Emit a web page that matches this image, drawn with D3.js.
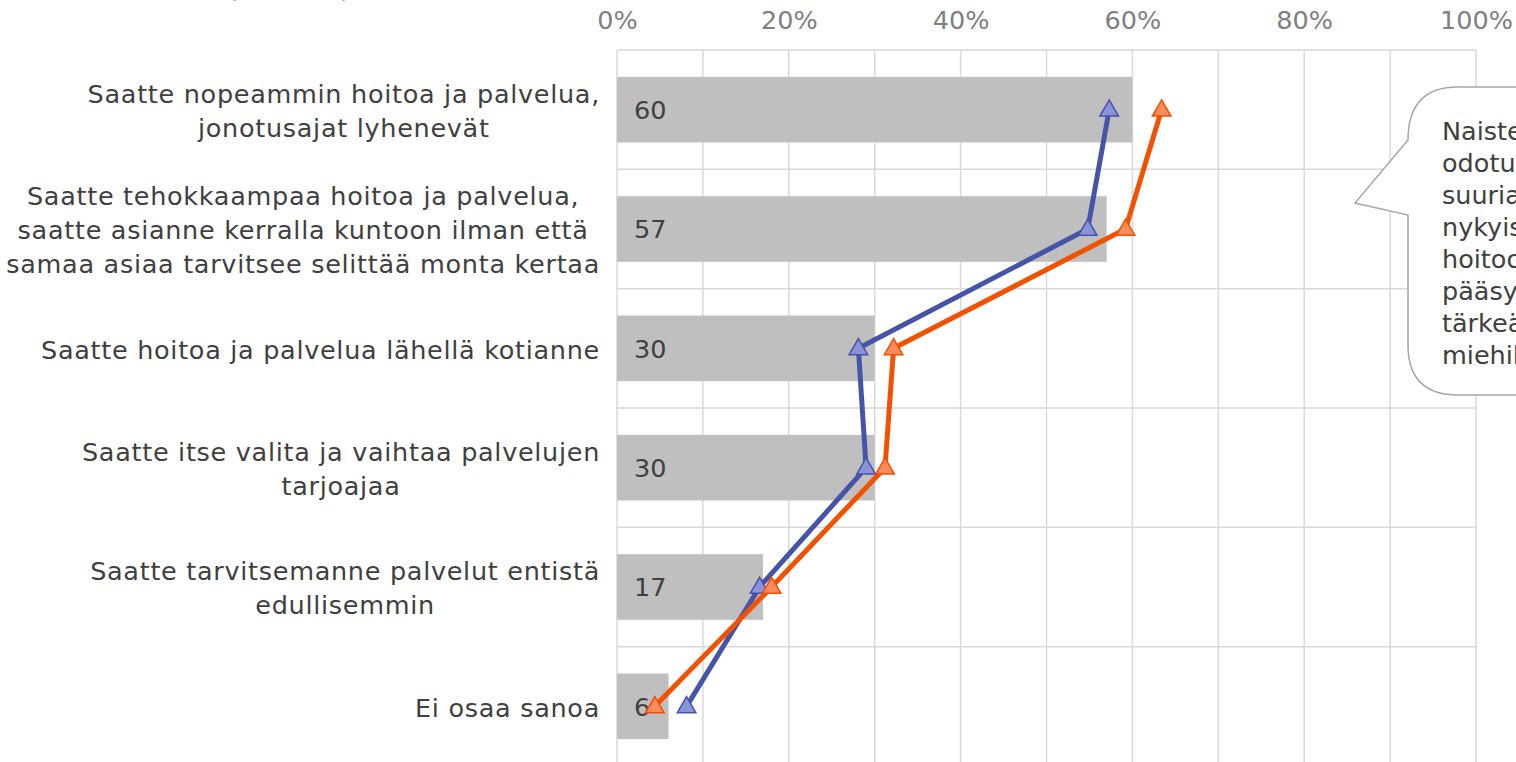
<!DOCTYPE html>
<html>
<head>
<meta charset="utf-8">
<script src="https://cdn.jsdelivr.net/npm/d3@7"></script>
<style>
  html, body { margin: 0; padding: 0; background: #fff; overflow: hidden; }
  svg { display: block; }
  text { font-family: "DejaVu Sans", Verdana, sans-serif; }
</style>
</head>
<body>
<svg id="chart" width="1516" height="762"></svg>
<script>
// Odotukset: kaikki vastaajat (pylväät), miehet ja naiset (viivat)
const categories = [
  ["Saatte nopeammin hoitoa ja palvelua,", "jonotusajat lyhenevät"],
  ["Saatte tehokkaampaa hoitoa ja palvelua,", "saatte asianne kerralla kuntoon ilman että", "samaa asiaa tarvitsee selittää monta kertaa"],
  ["Saatte hoitoa ja palvelua lähellä kotianne"],
  ["Saatte itse valita ja vaihtaa palvelujen", "tarjoajaa"],
  ["Saatte tarvitsemanne palvelut entistä", "edullisemmin"],
  ["Ei osaa sanoa"]
];
const kaikki = [60, 57, 30, 30, 17, 6];
const miehet = [57.3, 54.8, 28.1, 29.0, 16.6, 8.1];
const naiset = [63.4, 59.2, 32.2, 31.2, 18.0, 4.4];
const tickValues = [0, 20, 40, 60, 80, 100];
const gridValues = d3.range(0, 101, 10);
const calloutLines = ["Naisten", "odotukset ovat", "suuria, nopeampi", "nykyistä", "hoitoon", "pääsy on", "tärkeämpää kuin", "miehille"];

const FONT = 25.5;
const svg = d3.select("#chart");
const plot = { left: 617, right: 1476, top: 50, bottom: 766 };

const x = d3.scaleLinear().domain([0, 100]).range([plot.left, plot.right]);
const y = d3.scaleBand().domain(d3.range(categories.length))
  .range([plot.top, plot.bottom]).paddingInner(0.45).paddingOuter(0.225);
const yBand = d3.scaleBand().domain(d3.range(categories.length))
  .range([plot.top, plot.bottom]);

// gridlines
const grid = svg.append("g");
grid.selectAll("line.v").data(gridValues).join("line")
  .attr("x1", d => x(d)).attr("x2", d => x(d))
  .attr("y1", plot.top).attr("y2", plot.bottom)
  .attr("stroke", "#d9d9d9").attr("stroke-width", 1.5);
grid.selectAll("line.h").data(d3.range(categories.length + 1)).join("line")
  .attr("x1", plot.left).attr("x2", plot.right)
  .attr("y1", i => plot.top + i * yBand.step()).attr("y2", i => plot.top + i * yBand.step())
  .attr("stroke", "#d9d9d9").attr("stroke-width", 1.5);

// top axis
const axis = d3.axisTop(x).tickValues(tickValues).tickFormat(d => d + "%").tickSize(0).tickPadding(0);
const ax = svg.append("g").attr("transform", "translate(0,29)").call(axis);
ax.select(".domain").remove();
ax.selectAll("text").attr("fill", "#808080").attr("font-size", FONT)
  .style("font-family", '"DejaVu Sans", Verdana, sans-serif');

// bars
svg.append("g").selectAll("rect").data(kaikki).join("rect")
  .attr("x", x(0)).attr("y", (d, i) => y(i))
  .attr("width", d => x(d) - x(0)).attr("height", y.bandwidth())
  .attr("fill", "#bfbfbf");

// bar value labels
svg.append("g").selectAll("text").data(kaikki).join("text")
  .attr("x", x(0) + 17).attr("y", (d, i) => y(i) + y.bandwidth() / 2)
  .attr("dy", "0.36em").attr("font-size", FONT).attr("fill", "#404040")
  .text(d => d);

// category labels
const lineH = 34;
const labels = svg.append("g");
categories.forEach((lines, i) => {
  const cy = yBand(i) + yBand.bandwidth() / 2 + 1;
  const t = labels.append("text").attr("text-anchor", "middle")
    .attr("font-size", FONT).attr("fill", "#404040").attr("letter-spacing", 0.7);
  lines.forEach((ln, j) => {
    t.append("tspan").attr("x", 0)
      .attr("y", cy + (j - (lines.length - 1) / 2) * lineH)
      .attr("dy", "0.36em").text(ln);
  });
  // right-align the block at the plot edge, center lines within it
  const w = t.node().getBBox().width;
  t.selectAll("tspan").attr("x", 600 - w / 2);
});

// lines with triangle markers
const cyOf = i => yBand(i) + yBand.bandwidth() / 2;
const lineGen = d3.line().x(d => x(d)).y((d, i) => cyOf(i));
const series = [
  { values: miehet, stroke: "#4553a8", fill: "#8a93d8" },
  { values: naiset, stroke: "#f25100", fill: "#ff8a5c" }
];
const tri = d3.symbol().type(d3.symbolTriangle).size(150);
series.forEach(s => {
  svg.append("path").datum(s.values).attr("d", lineGen)
    .attr("fill", "none").attr("stroke", s.stroke).attr("stroke-width", 5)
    .attr("stroke-linejoin", "round");
});
series.forEach(s => {
  svg.append("g").selectAll("path").data(s.values).join("path")
    .attr("d", tri)
    .attr("transform", (d, i) => `translate(${x(d)},${cyOf(i) + 1})`)
    .attr("fill", s.fill).attr("stroke", s.stroke).attr("stroke-width", 1.5);
});

// speech-bubble note
const bx = 1408, by = 87, bw = 260, bh = 308, r = 50;
const tip = [1355, 203];
const bubble = d3.path();
bubble.moveTo(bx + r, by);
bubble.lineTo(bx + bw - r, by);
bubble.quadraticCurveTo(bx + bw, by, bx + bw, by + r);
bubble.lineTo(bx + bw, by + bh - r);
bubble.quadraticCurveTo(bx + bw, by + bh, bx + bw - r, by + bh);
bubble.lineTo(bx + r, by + bh);
bubble.quadraticCurveTo(bx, by + bh, bx, by + bh - r);
bubble.lineTo(bx, 215);
bubble.lineTo(tip[0], tip[1]);
bubble.lineTo(bx, 140);
bubble.quadraticCurveTo(bx, by, bx + r, by);
bubble.closePath();
svg.append("path").attr("d", bubble.toString())
  .attr("fill", "#fff").attr("stroke", "#a6a6a6").attr("stroke-width", 1.5);
svg.append("g").selectAll("text").data(calloutLines).join("text")
  .attr("x", 1442).attr("y", (d, i) => 131 + i * 32).attr("dy", "0.36em")
  .attr("font-size", FONT).attr("fill", "#404040").text(d => d);

// heading, mostly above the visible area
svg.append("text").attr("x", 228).attr("y", -3).attr("font-size", FONT)
  .attr("fill", "#404040").text("(n=1000)");
</script>
</body>
</html>
